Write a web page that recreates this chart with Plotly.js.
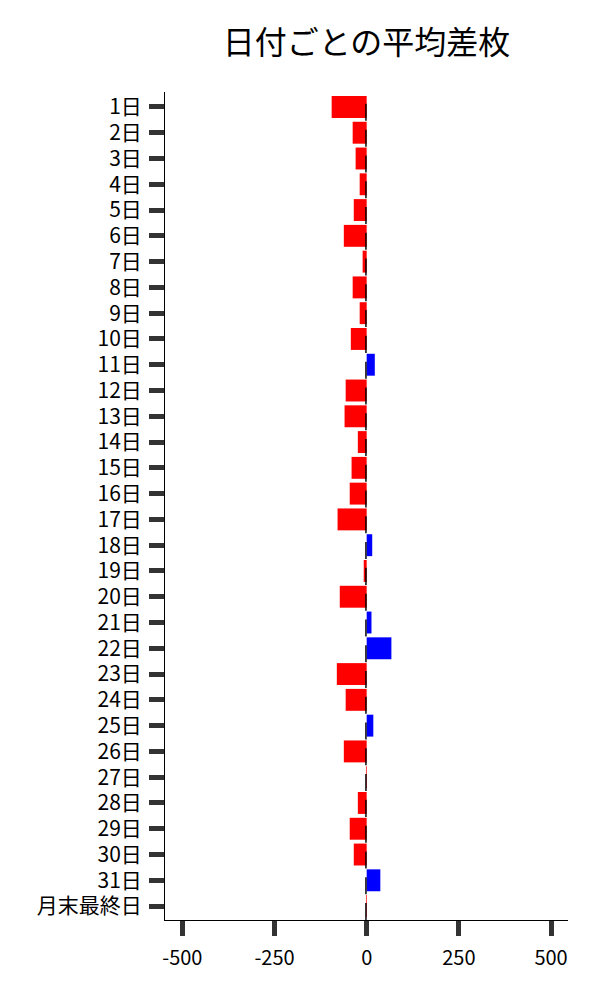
<!DOCTYPE html>
<html>
<head>
<meta charset="utf-8">
<script src="https://cdn.plot.ly/plotly-3.0.1.min.js"></script>
<style>html,body{margin:0;padding:0;background:#fff;}#chart{width:600px;height:1000px;}</style>
</head>
<body>
<div id="chart"></div>
<script>
const days = ["1日","2日","3日","4日","5日","6日","7日","8日","9日","10日","11日","12日","13日","14日","15日","16日","17日","18日","19日","20日","21日","22日","23日","24日","25日","26日","27日","28日","29日","30日","31日","月末最終日"];
const avgDiff = [-95,-38,-30,-19,-35,-62,-11,-38,-19,-43,22,-57,-60,-24,-41,-46,-79,15,-8,-73,13,67,-81,-57,18,-62,-2,-24,-46,-35,37,-2];
const markVals = [-4,-4,-4,-4,-4,-4,-4,-4,-4,-4,-4,-4,-4,-4,-4,-4,-4,-4,-4,-4,-4,-4,-4,-4,-4,-4,-4,-4,-4,-4,-4,-4];
const xTicks = [-500,-250,0,250,500];

const colors = avgDiff.map(v => v >= 0 ? "#0000ff" : "#ff0000");

const traces = [
  {
    type: "bar", orientation: "h",
    x: avgDiff, y: days,
    width: 0.85,
    marker: {color: colors, line: {width: 0}},
    hoverinfo: "x+y", showlegend: false
  },
  {
    type: "bar", orientation: "h",
    x: markVals, y: days,
    width: 0.66, offset: -0.12,
    marker: {color: "#000000", line: {width: 0}},
    hoverinfo: "skip", showlegend: false
  }
];

const layout = {
  width: 600, height: 1000,
  margin: {l: 165, r: 32, t: 92, b: 80},
  paper_bgcolor: "#ffffff", plot_bgcolor: "#ffffff",
  font: {family: "'Noto Sans CJK JP', 'Noto Sans', sans-serif", color: "#000", size: 20},
  title: {
    text: "日付ごとの平均差枚",
    font: {size: 32, color: "#000", family: "'Noto Sans CJK JP', sans-serif"},
    x: 0.5, xref: "paper", xanchor: "center",
    y: 0.957, yref: "container", yanchor: "middle"
  },
  barmode: "overlay",
  showlegend: false,
  xaxis: {
    range: [-547, 546],
    tickvals: xTicks,
    ticktext: xTicks.map(String),
    ticks: "outside", ticklen: 15, tickwidth: 5, tickcolor: "#333",
    ticklabelstandoff: 5,
    showline: true, linecolor: "#000", linewidth: 1,
    showgrid: false, zeroline: false,
    tickfont: {size: 20, color: "#000"}
  },
  yaxis: {
    type: "category",
    categoryorder: "array", categoryarray: days,
    range: [31.54, -0.58],
    ticks: "outside", ticklen: 15, tickwidth: 5, tickcolor: "#333",
    ticklabelstandoff: 3,
    showline: true, linecolor: "#000", linewidth: 1,
    showgrid: false, zeroline: false,
    tickfont: {size: 21, color: "#000"}
  }
};

Plotly.newPlot("chart", traces, layout, {displayModeBar: false, staticPlot: true});
</script>
</body>
</html>
